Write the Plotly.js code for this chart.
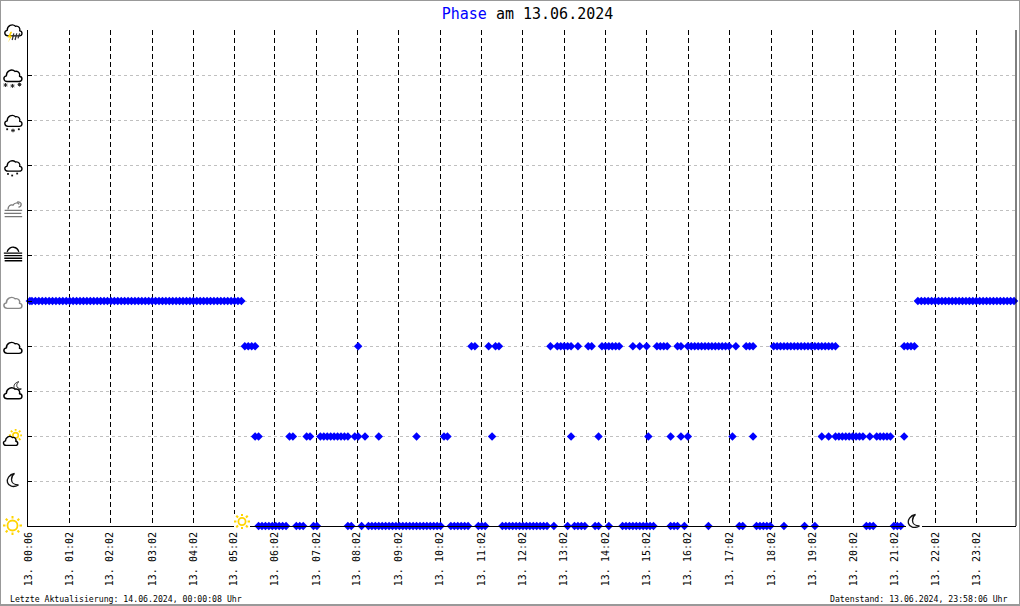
<!DOCTYPE html>
<html><head><meta charset="utf-8">
<script src="https://cdn.plot.ly/plotly-3.0.1.min.js"></script>
<style>
html,body{margin:0;padding:0;background:#fff;overflow:hidden}
#chart{position:absolute;left:0;top:0;width:1020px;height:606px}
#frame{position:absolute;left:0;top:0;width:1020px;height:606px;box-sizing:border-box;border:solid #999;border-width:1px 1.5px 2px 1.5px;pointer-events:none}
</style></head><body>
<div id="chart"></div><div id="frame"></div>
<script>
// sample positions (reading number along the day) for each weather phase
const sunClear = [67,68,69,70,71,72,73,74,75,78,79,80,83,84,93,94,97,99,100,101,102,103,104,105,106,107,108,109,110,111,112,113,114,115,116,117,118,119,120,123,124,125,126,127,128,131,132,133,138,139,140,141,142,143,144,145,146,147,148,149,150,151,153,157,159,160,161,162,165,166,169,173,174,175,176,177,178,179,180,181,182,187,188,189,191,198,207,208,212,213,214,215,216,220,226,229,244,245,246,252,253,254];
const partlySunny = [66,67,76,77,81,82,85,86,87,88,89,90,91,92,93,95,96,98,102,113,121,122,135,158,166,180.5,187,190,192,205,211,231,233,235,236,237,238,239,240,241,242,243,245,247,248,249,250,251,255];
const cloudy = [63,64,65,66,96,129,130,134,136,137,152,154,155,156,157,158,160,163,164,167,168,169,170,171,172,176,178,180,183,184,185,186,189,190,192,193,194,195,196,197,198,199,200,201,202,203,204,206,209,210,211,217,218,219,220,221,222,223,224,225,226,227,228,229,230,231,232,233,234,235,255,256,257,258];
const overcast = [0.4,1,2,3,4,5,6,7,8,9,10,11,12,13,14,15,16,17,18,19,20,21,22,23,24,25,26,27,28,29,30,31,32,33,34,35,36,37,38,39,40,41,42,43,44,45,46,47,48,49,50,51,52,53,54,55,56,57,58,59,60,61,62,259,260,261,262,263,264,265,266,267,268,269,270,271,272,273,274,275,276,277,278,279,280,281,282,283,284,285,286,287];
const tickPositions = [0,12,23.8,36.2,48,59.9,71.6,83.8,95.7,107.7,119.9,131.9,143.8,156,168,179.9,192.1,204.1,216.3,228.3,240.2,252.4,264.1,276];
const tickLabels = ["13. 00:06","13. 01:02","13. 02:02","13. 03:02","13. 04:02","13. 05:02","13. 06:02","13. 07:02","13. 08:02","13. 09:02","13. 10:02","13. 11:02","13. 12:02","13. 13:02","13. 14:02","13. 15:02","13. 16:02","13. 17:02","13. 18:02","13. 19:02","13. 20:02","13. 21:02","13. 22:02","13. 23:02"];
const phaseLevels = [0,1,2,3,4,5,6,7,8,9,10,11];
const titlePhase = "Phase";
const titleRest = " am 13.06.2024";
const footerLeft = "Letzte Aktualisierung: 14.06.2024, 00:00:08 Uhr";
const footerRight = "Datenstand: 13.06.2024, 23:58:06 Uhr";

const mono = '"DejaVu Sans Mono", monospace';
const L = 28, T = 30, W = 988, H = 496;
const yFloor = 0.02; // lowest level sits on the axis line; keeps it inside the axis range

const series = [[sunClear,0],[partlySunny,2],[cloudy,4],[overcast,5]];
const xs = [], ys = [];
series.forEach(([a,l]) => a.forEach(v => { xs.push(v); ys.push(Math.max(l,yFloor)); }));

const cloud = (s,c) => `<path d="M6 16C1.500 16 0.700 10.500 5 9.500C5 4 11 0.800 15 4.500C19 3.500 21 7.500 20 10C23.800 10.500 23.800 16 19.500 16Z" fill="#fff" stroke="${c}" stroke-width="${s}" stroke-linejoin="round"/>`;
const svg = (w,h,body,bg) => 'data:image/svg+xml;charset=utf-8,' + encodeURIComponent(
  `<svg xmlns="http://www.w3.org/2000/svg" width="${w*4}" height="${h*4}" viewBox="0 0 ${w} ${h}">${bg?`<rect width="${w}" height="${h}" fill="#fff"/>`:''}${body}</svg>`);
const sunBody = (cx,cy,r,n) => {
  let out = `<circle cx="${cx}" cy="${cy}" r="${r}" fill="none" stroke="#ffd400" stroke-width="1.800"/>`;
  for (let i=0;i<n;i++){ const a=i*2*Math.PI/n;
    out += `<line x1="${cx+(r+2)*Math.cos(a)}" y1="${cy+(r+2)*Math.sin(a)}" x2="${cx+(r+4.500)*Math.cos(a)}" y2="${cy+(r+4.500)*Math.sin(a)}" stroke="#ffd400" stroke-width="2"/>`; }
  return out; };
const moonBody = (c) => `<path d="M9.500 1.500C4 2.500 1.500 7 2.500 10.500C3.500 14 8 16 13.500 13C9 13 6.500 10.500 6.500 7.500C6.500 5 7.500 3 9.500 1.500Z" fill="#fff" stroke="${c}" stroke-width="1.300"/>`;
const dots = (pts) => pts.map(p=>`<rect x="${p[0]-1.100}" y="${p[1]-1.100}" width="2.200" height="2.200" fill="#111"/>`).join('');
const stars = (pts) => pts.map(p=>`<path d="M${p[0]-2.200} ${p[1]}H${p[0]+2.200}M${p[0]} ${p[1]-2.200}V${p[1]+2.200}M${p[0]-1.600} ${p[1]-1.600}L${p[0]+1.600} ${p[1]+1.600}M${p[0]+1.600} ${p[1]-1.600}L${p[0]-1.600} ${p[1]+1.600}" stroke="#222" stroke-width="1.100"/>`).join('');

const icons = [
 // [x, y, w, h, source] in page pixels
 [3,22.5,20,20, svg(24,24, cloud(1.600,'#000') +
   '<path d="M9 11L5.500 18H8.500L6 24L11 16H8.800L11 11Z" fill="#ffd400"/><path d="M13 13L11 21M16.500 13L14.500 21M20 13L18 19" stroke="#333" stroke-width="1.500"/>')],
 [2,67.5,21,21, svg(24,24, cloud(1.600,'#000') + stars([[4,20],[12,21],[20,19.500]]))],
 [3,113,20,20, svg(24,24, cloud(1.600,'#000') + dots([[5,19.500],[19,19.500]]) + stars([[12,21]]))],
 [3,158.5,20,19, svg(24,24, cloud(1.600,'#000') + dots([[6,19.500],[17,19],[11,21.500]]))],
 [3,200,20,19, svg(24,24, '<path d="M6 12C6 8 9 5 12 6.500C14 3 18 3 19.500 5.500M17 2.500C19 2 21.500 3 21.800 5C21.800 7 21 9 18.500 9" fill="none" stroke="#777" stroke-width="1.500"/><path d="M2 13H23M1.500 17H22M2 21H23" stroke="#777" stroke-width="1.600"/>')],
 [3,246,20,16, svg(24,19, '<path d="M5 7C6 3 10 0.800 13 1.500C16 2 18 4 19 7" fill="none" stroke="#000" stroke-width="1.600"/><path d="M1 8.500H23M1.500 11.500H23M1.500 14.500H23M2 17.500H23" stroke="#000" stroke-width="1.600"/>')],
 [2,295,21,15, svg(24,18, cloud(1.700,'#888'))],
 [2,340,21,15, svg(24,18, cloud(1.700,'#000'))],
 [2,380,21,20, svg(24,24, '<g transform="translate(12,1) scale(0.75)">'+moonBody('#000')+'</g><g transform="translate(0,6.500)">'+cloud(1.700,'#000')+'</g>')],
 [2,429,20,18, svg(22,20, sunBody(15,7,3,8) + '<g transform="translate(0,6) scale(0.76)">'+cloud(2,'#000')+'</g>')],
 [5,472,16,17, svg(16,17, moonBody('#111'))],
 [2,515,21,21, svg(21,21, sunBody(10.500,10.500,5,8))],
 [234,514,16,15, svg(16,15, sunBody(8,7.500,3.600,8), true)],
 [906,513,16,15, svg(16,15, moonBody('#111'), true)]
];
const pxX = p => (p-L)/W, pxY = p => (T+H-p)/H;

const images = icons.map(([x,y,w,h,src]) => ({source:src, xref:'paper', yref:'paper', x:pxX(x), y:pxY(y), sizex:w/W, sizey:h/H, xanchor:'left', yanchor:'top', sizing:'stretch', layer:'above'}));

const layout = {
  width:1020, height:606, paper_bgcolor:'#fff', plot_bgcolor:'#fff', showlegend:false,
  margin:{l:L,t:T,r:1020-L-W,b:606-T-H,pad:0},
  title:{text:`<span style="color:#0000ff">${titlePhase}</span>${titleRest}`, font:{family:mono,size:15,color:'#000'}, x:527.5/1020, xanchor:'center', xref:'container', y:1-14/606, yanchor:'middle', yref:'container'},
  xaxis:{range:[-0.146,287.57], tickmode:'array', tickvals:tickPositions, ticktext:tickLabels, tickangle:-90, ticks:'', showline:true, linecolor:'#000', linewidth:1, zeroline:false,
    showgrid:true, gridcolor:'#000', gridwidth:1, griddash:'5px,3px', tickfont:{family:mono,size:10,color:'#000'}, ticklabelshift:1.5, ticklabelstandoff:1, automargin:false, fixedrange:true},
  yaxis:{range:[yFloor,11], tickmode:'array', tickvals:phaseLevels, ticktext:phaseLevels.map(()=>''), ticks:'inside', ticklen:4, tickcolor:'#000', tickwidth:1, showline:true, linecolor:'#000', linewidth:1, zeroline:false,
    showgrid:true, gridcolor:'#c0c0c0', gridwidth:1, griddash:'3px,3px', automargin:false, fixedrange:true},
  shapes:[{type:'line', xref:'paper', yref:'paper', x0:1, x1:1, y0:0, y1:1, line:{color:'#000',width:1}}],
  images:images,
  annotations:[
    {text:footerLeft, xref:'paper', yref:'paper', x:pxX(8), y:pxY(599), xanchor:'left', yanchor:'middle', showarrow:false, font:{family:mono,size:8.2,color:'#000'}},
    {text:footerRight, xref:'paper', yref:'paper', x:pxX(1010), y:pxY(599), xanchor:'right', yanchor:'middle', showarrow:false, font:{family:mono,size:8.2,color:'#000'}}
  ]
};
Plotly.newPlot('chart',[{type:'scatter',mode:'markers',x:xs,y:ys,cliponaxis:false,hoverinfo:'skip',marker:{symbol:'diamond',size:6.500,color:'#0000ff',line:{width:0}}}],layout,{displayModeBar:false,staticPlot:true});
</script></body></html>
